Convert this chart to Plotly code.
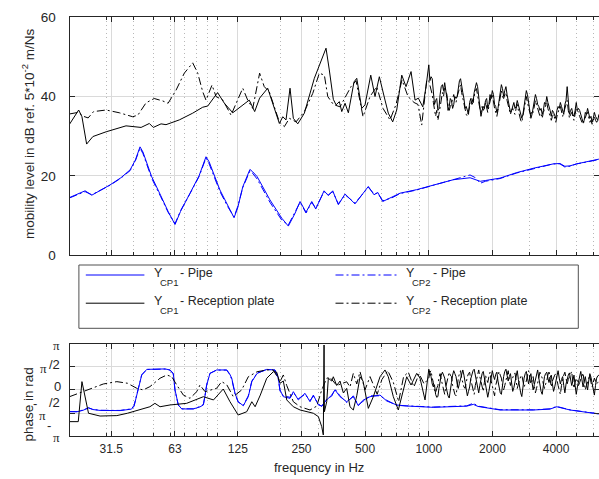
import numpy as np
import plotly.graph_objects as go

# ------------------------------------------------------------------
# Data: mobility level (dB re 5e-2 m/Ns) and phase (rad) vs frequency
# ------------------------------------------------------------------

# frequency grid for the dense upper band (Hz), plus the in-between bins
f_hf = [1000, 1025, 1051, 1077, 1104, 1131, 1160, 1189, 1218, 1249, 1280, 1312,
        1345, 1379, 1413, 1448, 1485, 1522, 1560, 1599, 1639, 1680, 1722, 1765,
        1809, 1854, 1900, 1948, 1997, 2047, 2098, 2150, 2204, 2259, 2316, 2374,
        2433, 2494, 2556, 2620, 2686, 2753, 2822, 2892, 2965, 3039, 3115, 3193,
        3272, 3354, 3438, 3524, 3612, 3702, 3795, 3890, 3987, 4087, 4189, 4294,
        4401, 4511, 4624, 4740, 4858, 4980, 5104, 5232, 5363, 5497, 5634, 5775,
        5919, 6067, 6219, 6374]
f_hf_mid = [1012, 1038, 1064, 1090, 1117, 1145, 1174, 1203, 1233, 1264, 1296, 1328,
            1362, 1396, 1430, 1466, 1503, 1541, 1579, 1619, 1659, 1701, 1743, 1787,
            1831, 1877, 1924, 1972, 2022, 2072, 2124, 2177, 2231, 2287, 2345, 2403,
            2463, 2525, 2588, 2653, 2719, 2787, 2857, 2928, 3002, 3077, 3154, 3232,
            3313, 3396, 3481, 3568, 3657, 3748, 3842, 3938, 4037, 4138, 4241, 4347,
            4456, 4567, 4682, 4799, 4919, 5042, 5167, 5297, 5430, 5565, 5704, 5847,
            5993, 6142, 6296]

# Pipe, Y_CP1 and Y_CP2 (level)
f_pipe = [20.0, 23.7, 25.5, 31.1, 35.0, 38.7, 41.0, 43.1, 44.5, 48.9, 54.0, 58.5,
          63.1, 67.0, 74.3, 82.0, 88.4, 91.5, 102.9, 112.0, 120.0, 125.0, 131.9,
          142.6, 147.0, 154.2, 177.4, 201.7, 216.7, 233.0, 246.2, 262.7, 279.6,
          292.0, 319.7, 334.9, 351.3, 373.5, 401.8, 447.9, 517.7, 550.7, 573.6,
          605.4, 667.9, 731.1, 876.9, 1050, 1306, 1567, 1650, 1750, 1850, 2172,
          2605, 3121, 3880, 4170, 4400, 4650, 5000, 5378, 6374]
lvl_pipe_cp1 = [14.5, 16.2, 15.1, 17.7, 19.5, 21.5, 24.0, 27.3, 26.0, 19.8, 15.0,
                11.0, 7.7, 11.0, 15.6, 20.0, 24.8, 23.5, 16.4, 12.5, 9.4, 12.0,
                17.2, 21.6, 21.0, 19.8, 13.9, 9.3, 7.3, 10.5, 13.5, 10.8, 13.5,
                11.6, 16.2, 15.0, 16.2, 12.7, 15.4, 12.9, 17.3, 15.2, 15.8, 13.5,
                14.5, 15.6, 16.5, 17.7, 19.0, 19.5, 19.0, 18.6, 18.8, 19.4, 20.8,
                21.9, 23.0, 23.1, 22.4, 22.5, 23.0, 23.4, 24.2]
lvl_pipe_cp2 = [14.4, 16.0, 15.2, 17.6, 19.4, 21.3, 23.8, 27.0, 25.6, 19.4, 14.7,
                10.8, 7.9, 11.2, 15.5, 19.8, 24.5, 23.0, 16.0, 12.2, 9.6, 12.3,
                17.0, 21.2, 20.6, 19.2, 13.3, 8.8, 7.6, 10.7, 13.3, 10.6, 13.3,
                11.8, 16.0, 15.2, 16.0, 12.9, 15.2, 13.1, 17.1, 15.4, 15.6, 13.7,
                14.4, 15.5, 16.4, 17.6, 19.0, 20.2, 19.6, 18.1, 18.6, 19.3, 20.7,
                21.8, 23.0, 23.0, 22.2, 22.4, 23.0, 23.3, 24.1]

# Reception plate, Y_CP1 (level)
f_plate_cp1 = [20.0, 22.1, 22.9, 24.1, 25.8, 29.8, 37.0, 43.6, 47.7, 49.8, 54.2,
               57.2, 66.1, 76.5, 85.3, 90.1, 100.3, 108.0, 118.3, 141.6, 150.2,
               158.5, 173.1, 196.5, 203.9, 211.3, 220.7, 228.8, 240.1, 258.0,
               287.6, 315.2, 326.6, 338.5, 353.6, 364.3, 377.6, 387.6, 401.8,
               416.5, 443.0, 456.4, 481.8, 499.4, 531.5, 556.8, 583.6, 620.8,
               643.5, 675.0, 705.2, 744.9, 780.4, 824.2, 861.0, 892.4, 936.7,
               970.4]
lvl_plate_cp1 = [33.0, 36.6, 34.9, 28.0, 29.9, 31.1, 32.6, 32.2, 33.2, 32.2, 33.1,
                 32.9, 34.1, 35.8, 37.3, 37.6, 41.0, 38.3, 35.9, 39.1, 36.2, 39.6,
                 42.1, 33.2, 34.9, 34.1, 42.1, 34.5, 33.1, 35.8, 44.6, 50.0, 52.2,
                 46.7, 39.3, 37.9, 38.7, 36.2, 38.3, 35.9, 43.7, 44.6, 37.0, 37.9,
                 45.4, 40.0, 45.0, 39.1, 35.8, 33.6, 36.6, 45.4, 42.5, 46.3, 39.1,
                 39.6, 37.4, 42.5]
lvl_plate_cp1_hf = [48.0, 45.0, 41.5, 39.0, 36.5, 40.5, 43.0, 43.5, 39.5, 37.5, 39.0,
                    38.0, 39.5, 42.0, 44.5, 41.0, 37.0, 36.0, 38.5, 38.0, 41.0, 43.5,
                    39.5, 35.0, 37.5, 39.0, 37.0, 40.5, 41.5, 38.0, 36.0, 39.5, 43.0,
                    40.0, 42.5, 39.0, 36.0, 38.0, 37.0, 39.0, 36.5, 34.5, 38.0, 41.5,
                    38.5, 34.5, 37.0, 40.5, 38.0, 36.5, 35.5, 38.5, 40.0, 37.0, 35.0,
                    36.0, 34.5, 37.5, 38.5, 36.0, 38.0, 42.5, 35.5, 37.0, 35.0, 38.5,
                    37.0, 35.0, 33.5, 36.0, 37.0, 34.5, 33.5, 36.0, 34.5, 35.5]
lvl_plate_cp1_mid = [44.0, 44.5, 38.0, 39.5, 37.0, 42.5, 41.5, 42.0, 36.5, 39.5, 37.0,
                     40.0, 40.0, 44.0, 42.0, 39.5, 37.5, 35.5, 39.5, 38.5, 42.0, 42.5,
                     36.5, 36.5, 37.0, 39.5, 38.0, 39.5, 40.5, 37.5, 37.0, 41.5, 42.0,
                     41.5, 40.5, 38.0, 36.5, 38.5, 37.5, 38.0, 36.0, 35.5, 39.0, 40.5,
                     36.0, 35.5, 38.5, 39.5, 37.5, 37.0, 36.5, 38.0, 38.5, 36.5, 36.5,
                     35.0, 36.5, 37.0, 37.5, 35.5, 39.0, 38.0, 36.5, 35.5, 36.5, 36.5,
                     36.5, 34.5, 34.0, 35.5, 36.0, 35.0, 34.5, 35.0, 34.0]

# Reception plate, Y_CP2 (level)
f_plate_cp2 = [20.0, 22.0, 23.3, 24.5, 26.0, 29.8, 34.4, 39.8, 42.1, 46.0, 50.3,
               55.1, 58.5, 63.8, 69.8, 76.5, 80.8, 85.3, 88.4, 94.4, 98.6, 106.2,
               116.1, 131.9, 139.2, 147.1, 158.5, 166.7, 176.1, 196.5, 207.5,
               219.1, 235.6, 258.0, 282.7, 303.6, 320.8, 332.8, 353.6, 380.4,
               428.7, 452.8, 488.6, 527.3, 567.3, 607.5, 655.6, 699.9, 747.0,
               797.5, 851.5, 889.0, 925.9, 977.6]
lvl_plate_cp2 = [35.6, 36.0, 35.0, 34.6, 36.2, 36.6, 35.9, 34.9, 35.3, 38.4, 39.5,
                 38.9, 38.3, 41.6, 45.9, 48.5, 45.9, 41.2, 39.1, 42.9, 40.0, 39.1,
                 35.3, 42.1, 39.1, 37.0, 45.9, 42.5, 41.2, 33.6, 32.4, 34.5, 33.6,
                 36.2, 40.8, 45.9, 45.4, 40.0, 38.0, 37.4, 42.5, 44.0, 34.9, 40.0,
                 42.5, 37.0, 34.1, 38.0, 44.2, 40.0, 38.5, 38.0, 32.8, 44.2]
lvl_plate_cp2_hf = [44.0, 42.0, 38.5, 35.0, 34.0, 37.5, 41.0, 42.5, 40.5, 36.5, 38.0,
                    40.5, 38.5, 41.0, 43.0, 39.5, 36.5, 35.0, 37.5, 39.5, 40.0, 42.0,
                    38.0, 36.0, 36.5, 38.5, 36.0, 39.0, 40.5, 37.0, 35.0, 38.0, 41.5,
                    39.5, 41.0, 37.5, 35.5, 37.0, 35.5, 38.0, 35.0, 33.5, 36.5, 40.0,
                    37.0, 35.5, 36.0, 39.0, 37.0, 35.0, 34.5, 37.0, 38.5, 36.0, 34.0,
                    35.5, 33.5, 36.5, 37.5, 35.0, 37.0, 39.0, 34.5, 36.0, 34.0, 37.0,
                    36.0, 34.0, 33.0, 35.0, 36.0, 33.5, 33.0, 35.0, 33.5, 34.5]
lvl_plate_cp2_mid = [43.0, 40.5, 36.0, 36.5, 35.5, 39.5, 40.0, 41.5, 38.0, 37.5, 39.5,
                     39.0, 40.0, 42.5, 41.0, 38.0, 35.5, 36.5, 38.0, 38.5, 41.5, 40.0,
                     37.0, 37.5, 37.0, 37.5, 37.5, 40.0, 38.5, 36.0, 36.5, 40.0, 40.0,
                     40.5, 39.0, 36.0, 36.5, 36.0, 37.0, 36.5, 34.0, 35.0, 38.5, 38.5,
                     36.0, 36.5, 37.5, 38.0, 36.0, 35.5, 36.0, 37.5, 37.0, 35.0, 35.0,
                     34.5, 35.0, 37.0, 36.0, 36.0, 38.0, 36.5, 35.5, 35.0, 35.5, 36.5,
                     35.0, 33.5, 34.0, 35.5, 34.5, 34.0, 34.0, 34.0, 34.0]

# Pipe, phase
f_pipe_ph = [20.0, 21.7, 23.2, 24.6, 25.8, 27.9, 34.7, 39.3, 40.4, 41.5, 42.3, 43.9,
             46.4, 50.7, 56.6, 59.8, 61.9, 63.1, 64.3, 65.4, 67.9, 77.0, 82.8, 85.9,
             87.5, 89.1, 92.3, 99.3, 110.8, 114.2, 117.0, 121.3, 125.5, 132.7,
             140.1, 145.6, 154.2, 171.3, 187.4, 194.3, 197.9, 205.2, 220.7, 228.8,
             241.5, 259.8, 274.4, 284.5, 300.5, 311.7, 329.0, 347.5, 360.2, 380.4,
             409.1, 439.6, 464.3, 488.6, 527.3, 588.0, 632.4, 705.2, 786.3, 1050,
             1512, 1624, 1709, 2172, 3121, 3742, 4025, 4326, 4653, 6374]
ph_pipe_cp1 = [-1.48, -1.48, -1.38, -1.21, -1.33, -1.39, -1.40, -1.30, -1.10, -0.40,
               0.00, 1.01, 1.39, 1.42, 1.42, 1.35, 1.12, 0.00, -0.60, -1.02, -1.29,
               -1.29, -1.15, -1.02, -0.40, 0.33, 1.12, 1.35, 1.35, 1.10, 0.79, -0.23,
               -0.80, -1.07, -0.46, 0.56, 1.12, 1.39, 1.35, 0.79, 0.00, -0.46, -0.57,
               -0.12, -0.68, -0.23, -0.80, -0.35, -1.02, -1.09, -0.68, -0.35, 0.00,
               -0.46, -0.80, -0.46, -1.07, -0.70, -0.46, -0.35, -0.75, -1.02, -1.09,
               -1.18, -1.10, -0.98, -1.12, -1.36, -1.36, -1.30, -1.14, -1.25, -1.36,
               -1.63]
ph_pipe_cp2 = [-1.46, -1.47, -1.36, -1.22, -1.32, -1.38, -1.39, -1.28, -1.05, -0.35,
               0.05, 1.02, 1.38, 1.41, 1.41, 1.33, 1.08, -0.05, -0.62, -1.03, -1.28,
               -1.28, -1.13, -0.98, -0.35, 0.38, 1.12, 1.34, 1.34, 1.06, 0.72, -0.28,
               -0.83, -1.05, -0.40, 0.60, 1.14, 1.38, 1.33, 0.70, -0.08, -0.40, -0.50,
               -0.20, -0.60, -0.30, -0.72, -0.42, -0.95, -1.12, -0.62, -0.42, 0.05,
               -0.40, -0.86, -0.40, -1.02, -0.75, -0.40, -0.40, -0.70, -1.05, -1.08,
               -1.16, -1.08, -0.90, -1.10, -1.34, -1.35, -1.28, -1.12, -1.24, -1.35,
               -1.62]

# Reception plate, Y_CP1 (phase)
f_plate_cp1_ph = [20.0, 22.0, 22.9, 24.6, 27.9, 33.5, 37.6, 41.6, 48.0, 50.7, 53.6,
                  59.8, 71.6, 85.9, 95.9, 106.7, 114.8, 125.5, 137.7, 145.6, 150.9,
                  159.7, 171.3, 184.0, 190.9, 197.9, 205.2, 212.9, 228.8, 246.2,
                  284.5, 300.5, 311.7, 317.1, 319.7, 320.8, 329.1, 334.9, 347.5,
                  353.6, 366.9, 380.4, 394.3, 409.1, 424.0, 439.6, 456.4, 472.9,
                  488.6, 517.7, 546.6, 588.0, 620.8, 643.5, 679.6, 717.6, 757.7,
                  786.3, 824.2, 876.9, 908.8, 959.8]
ph_plate_cp1 = [-2.15, -2.15, 0.56, -1.58, -1.77, -1.74, -1.58, -1.38, -1.14, -0.91,
                -1.14, -1.02, -0.91, -0.46, -0.68, 0.06, -0.80, -1.70, -1.48, -0.80,
                -1.14, -0.35, 0.79, 1.23, 1.20, 0.45, 0.60, -0.68, -1.14, -1.36, -1.58,
                -1.81, -2.49, -3.05, 3.04, -1.48, -0.80, 0.79, 0.60, 0.89, 0.30, 0.60,
                -0.20, 0.10, -1.14, -1.36, -0.40, 0.89, 0.60, -1.25, -0.46, 0.89, 1.35,
                0.89, -0.46, -1.36, 0.11, 0.89, 0.33, 1.12, 0.80, -0.68]
ph_plate_cp1_hf = [1.40, 0.90, 0.20, -0.30, -0.45, 0.60, 1.20, 0.80, -0.10, -0.55,
                   0.50, 1.30, 0.90, 0.10, 0.70, 1.35, 0.60, -0.40, 0.20, 1.10, 1.40,
                   0.50, -0.20, 0.80, 1.25, 0.30, -0.50, 0.40, 1.30, 0.70, 1.20, 0.10,
                   -0.30, 0.90, 1.40, 0.60, 1.10, -0.10, 0.50, 1.30, 0.20, -0.45, 0.80,
                   1.25, 0.40, 1.10, 0.00, 0.70, 1.35, 0.30, -0.30, 0.90, 1.20, 0.50,
                   1.00, -0.10, 0.60, 1.30, 0.40, 0.90, -0.20, 0.80, 1.15, 0.30, 1.00,
                   -0.30, 0.60, 1.25, 0.20, 0.90, 0.00, 1.10, 0.50, -0.35, 0.80, 1.00]
ph_plate_cp1_mid = [1.20, 0.40, 0.35, -0.50, 0.10, 1.00, 0.95, 0.30, -0.40, 0.10, 1.00,
                    1.10, 0.40, 0.45, 1.10, 1.00, 0.00, -0.10, 0.75, 1.30, 0.95, 0.10,
                    0.30, 1.10, 0.80, -0.20, -0.10, 0.95, 0.95, 1.05, 0.60, -0.20, 0.40,
                    1.25, 1.00, 0.90, 0.50, 0.15, 1.00, 0.70, -0.20, 0.30, 1.10, 0.80,
                    0.85, 0.50, 0.35, 1.10, 0.80, -0.10, 0.40, 1.10, 0.80, 0.85, 0.40,
                    0.20, 1.00, 0.80, 0.70, 0.30, 0.40, 1.00, 0.70, 0.60, 0.30, 0.20,
                    0.90, 0.70, 0.55, 0.40, 0.60, 0.85, 0.00, 0.30, 0.95]

# Reception plate, Y_CP2 (phase)
f_plate_cp2_ph = [20.0, 22.3, 25.4, 28.9, 33.5, 37.6, 41.6, 44.6, 48.0, 53.6, 57.7,
                  60.9, 64.3, 69.1, 74.3, 79.9, 82.8, 87.5, 99.3, 104.9, 110.8, 119.0,
                  130.4, 140.1, 154.2, 171.2, 184.0, 197.9, 205.2, 212.9, 228.8,
                  246.2, 274.4, 295.1, 311.7, 329.1, 341.1, 366.9, 409.1, 424.0,
                  439.6, 456.4, 472.9, 499.4, 527.3, 570.0, 600.0, 640.0, 680.0,
                  720.0, 760.0, 800.0, 850.0, 900.0, 950.0]
ph_plate_cp2 = [-0.46, -0.19, 0.11, 0.40, 0.56, 0.45, 0.11, 0.00, 0.22, 0.79, 1.01,
                0.89, 0.33, -0.35, -0.57, -0.12, 0.33, -0.12, 0.11, 0.56, 0.35, -0.46,
                0.00, 0.89, 1.23, 1.35, 1.35, 0.56, 1.01, 0.30, -0.80, -1.14, -1.36,
                -1.10, 0.00, 0.79, 0.85, 0.30, 0.55, 0.20, 1.12, 0.40, 1.23, 0.00,
                0.90, -0.30, 0.70, 1.30, 0.50, -0.80, 0.90, 1.20, 0.20, 1.10, 0.40]
ph_plate_cp2_hf = [0.80, 1.30, 0.50, -0.20, 0.30, 1.10, 0.40, -0.30, 0.60, 1.20, 0.90,
                   0.00, -0.40, 0.80, 1.30, 0.50, 0.10, 0.90, 1.20, 0.30, -0.30, 0.70,
                   1.35, 0.60, -0.10, 1.00, 0.50, 1.20, 0.20, -0.40, 0.70, 1.25, 0.80,
                   0.00, 0.60, 1.30, 0.30, 0.90, 1.15, 0.10, 0.70, 1.00, 0.20, 0.60,
                   1.30, 0.40, 0.90, -0.20, 0.50, 1.20, 0.80, 0.10, 0.60, 1.30, 0.20,
                   0.90, 1.10, 0.30, -0.30, 0.70, 1.20, 0.40, 0.90, 1.25, 0.10, 0.80,
                   0.30, 0.70, 1.15, 0.00, 0.60, 1.00, 0.20, 0.80, 0.40, 0.70]
ph_plate_cp2_mid = [1.20, 0.80, 0.00, 0.10, 0.80, 0.70, 0.00, 0.20, 1.00, 1.00, 0.30,
                    -0.30, 0.30, 1.10, 0.80, 0.20, 0.60, 1.10, 0.70, -0.10, 0.30, 1.10,
                    0.90, 0.20, 0.50, 0.70, 0.90, 0.60, -0.20, 0.30, 1.00, 1.00, 0.30,
                    0.30, 1.00, 0.70, 0.60, 1.05, 0.50, 0.40, 0.90, 0.50, 0.40, 1.00,
                    0.80, 0.60, 0.30, 0.10, 0.90, 1.00, 0.40, 0.40, 1.00, 0.70, 0.60,
                    1.00, 0.60, 0.00, 0.30, 1.00, 0.70, 0.70, 1.10, 0.50, 0.50, 0.60,
                    0.50, 0.90, 0.50, 0.30, 0.80, 0.50, 0.50, 0.60, 0.50]

x_ticks = [31.5, 63, 125, 250, 500, 1000, 2000, 4000]
x_ticktext = ["31.5", "63", "125", "250", "500", "1000", "2000", "4000"]
x_minor = [20, 30, 40, 50, 60, 70, 80, 90, 100, 200, 300, 400, 600, 700, 800, 900,
           3000, 5000, 6000]
f_min, f_max = 20, 6380


def join(f_lo, v_lo, v_hf, v_mid):
    """Low band points followed by the dense upper band, ordered by frequency."""
    assert len(f_lo) == len(v_lo)
    assert len(f_hf) == len(v_hf) and len(f_hf_mid) == len(v_mid)
    upper = sorted(list(zip(f_hf, v_hf)) + list(zip(f_hf_mid, v_mid)))
    return list(f_lo) + [p[0] for p in upper], list(v_lo) + [p[1] for p in upper]


# ------------------------------------------------------------------
# Figure geometry (pixels)
# ------------------------------------------------------------------
W, H = 599, 479
LEFT = 69.5
TOP1, BOT1 = 17.3, 255.0
TOP2, BOT2 = 343.5, 436.3


def px(x):
    return x / W


def py(y):
    return 1 - y / H


FONT = "Liberation Sans, Arial, sans-serif"
SERIF = "Liberation Serif, Times New Roman, serif"
TXT = "#262626"
BLUE = "#0000ff"
BLACK = "#000000"
DASHDOT = "8px,3px,2px,3px"

series_level = [
    (f_pipe, lvl_pipe_cp1, BLUE, "solid"),
    (f_pipe, lvl_pipe_cp2, BLUE, DASHDOT),
    (*join(f_plate_cp1, lvl_plate_cp1, lvl_plate_cp1_hf, lvl_plate_cp1_mid), BLACK, "solid"),
    (*join(f_plate_cp2, lvl_plate_cp2, lvl_plate_cp2_hf, lvl_plate_cp2_mid), BLACK, DASHDOT),
]
series_phase = [
    (f_pipe_ph, ph_pipe_cp1, BLUE, "solid"),
    (f_pipe_ph, ph_pipe_cp2, BLUE, DASHDOT),
    (*join(f_plate_cp1_ph, ph_plate_cp1, ph_plate_cp1_hf, ph_plate_cp1_mid), BLACK, "solid"),
    (*join(f_plate_cp2_ph, ph_plate_cp2, ph_plate_cp2_hf, ph_plate_cp2_mid), BLACK, DASHDOT),
]

fig = go.Figure()
for f, v, col, dash in series_level:
    assert len(f) == len(v)
    fig.add_trace(go.Scatter(x=f, y=v, mode="lines", xaxis="x", yaxis="y",
                             line=dict(color=col, width=1, dash=dash),
                             showlegend=False, hoverinfo="skip"))
for f, v, col, dash in series_phase:
    assert len(f) == len(v)
    fig.add_trace(go.Scatter(x=f, y=v, mode="lines", xaxis="x2", yaxis="y2",
                             line=dict(color=col, width=1, dash=dash),
                             showlegend=False, hoverinfo="skip"))

xbase = dict(
    type="log", range=[np.log10(f_min), np.log10(f_max)], domain=[px(LEFT), 1.0],
    tickvals=x_ticks, ticktext=x_ticktext, ticks="inside", ticklen=5,
    tickcolor=TXT, showline=True, linecolor=TXT, linewidth=1, mirror="ticks",
    showgrid=True, gridcolor="#dadada", gridwidth=1, zeroline=False,
    minor=dict(tickvals=x_minor, ticks="inside", ticklen=3, tickcolor=TXT,
               showgrid=True, gridcolor="#b8b8b8", griddash="1px,3px"),
    automargin=False, fixedrange=True,
)
fig.update_layout(
    xaxis=dict(xbase, anchor="y", showticklabels=False),
    xaxis2=dict(xbase, anchor="y2", showticklabels=True,
                tickfont=dict(family=FONT, size=12, color=TXT),
                ticklabelstandoff=1),
    yaxis=dict(domain=[py(BOT1), py(TOP1)], range=[0, 60], tickvals=[0, 20, 40, 60],
               ticks="inside", ticklen=5, tickcolor=TXT, showline=True,
               linecolor=TXT, linewidth=1, mirror="ticks", showgrid=True,
               gridcolor="#dadada", zeroline=False, anchor="x",
               tickfont=dict(family=FONT, size=13.5, color=TXT),
               ticklabelstandoff=10, automargin=False),
    yaxis2=dict(domain=[py(BOT2), py(TOP2)], range=[-np.pi, np.pi],
                tickvals=[-np.pi, -np.pi / 2, 0, np.pi / 2, np.pi],
                showticklabels=False, ticks="inside", ticklen=5,
                tickcolor=TXT, showline=True, linecolor=TXT, linewidth=1,
                mirror="ticks", showgrid=True, gridcolor="#dadada",
                zeroline=False, anchor="x2", automargin=False),
    width=W, height=H, margin=dict(l=0, r=0, t=0, b=0),
    paper_bgcolor="white", plot_bgcolor="white", showlegend=False,
    font=dict(family=FONT, color=TXT),
)

ann = []
# axis titles
ann.append(dict(text="mobility level in dB ref. 5*10<sup>-2</sup> m/Ns", textangle=-90,
                x=px(28), y=py(134), xref="paper", yref="paper", showarrow=False,
                xanchor="center", yanchor="middle", font=dict(size=13.5)))
ann.append(dict(text="phase in rad", textangle=-90, x=px(27.5), y=py(404),
                xref="paper", yref="paper", showarrow=False, xanchor="center",
                yanchor="middle", font=dict(size=13.5)))
ann.append(dict(text="frequency in Hz", x=px(319), y=py(467), xref="paper",
                yref="paper", showarrow=False, xanchor="center", yanchor="middle",
                font=dict(size=13)))

# phase tick labels, pieces placed beside each tick
phase_pieces = [
    (np.pi, "π", SERIF, -7.8, -2.2),
    (np.pi / 2, "π", SERIF, -20.2, -1.3),
    (np.pi / 2, "/2", FONT, -7.8, 2.4),
    (0, "0", FONT, -6.8, 3.2),
    (-np.pi / 2, "-", FONT, -30.2, 9.8),
    (-np.pi / 2, "/2", FONT, -7.8, 10.6),
    (-np.pi / 2, "π", SERIF, -21.2, -2.7),
    (-np.pi, "-", FONT, -16.8, 11.3),
    (-np.pi, "π", SERIF, -7.8, -1.4),
]
for yv, txt, fam, dx, dy in phase_pieces:
    ann.append(dict(text=txt, x=px(LEFT), y=yv, xref="paper", yref="y2",
                    xanchor="right", yanchor="middle", xshift=dx, yshift=dy,
                    showarrow=False, font=dict(family=fam, size=13)))

# legend box
shapes = [dict(type="rect", xref="paper", yref="paper", x0=px(78.9), x1=px(578.3),
               y0=py(328.3), y1=py(265), line=dict(color="#505050", width=1),
               fillcolor="white", layer="above")]
legend_rows = [
    (275.0, [(85.8, 144.4, BLUE, "solid", "CP1", "- Pipe"),
             (335.5, 396.8, BLUE, DASHDOT, "CP2", "- Pipe")]),
    (303.2, [(85.8, 144.4, BLACK, "solid", "CP1", "- Reception plate"),
             (335.5, 396.8, BLACK, DASHDOT, "CP2", "- Reception plate")]),
]
for yrow, items in legend_rows:
    for x0, x1, col, dash, sub, label in items:
        shapes.append(dict(type="line", xref="paper", yref="paper", x0=px(x0),
                           x1=px(x1), y0=py(yrow), y1=py(yrow),
                           line=dict(color=col, width=1, dash=dash), layer="above"))
        ann.append(dict(text="Y", x=px(x1 + 7.5), y=py(yrow - 2.5), xref="paper",
                        yref="paper", xanchor="left", yanchor="middle",
                        showarrow=False, font=dict(size=12.5)))
        ann.append(dict(text=sub, x=px(x1 + 13.5), y=py(yrow + 7.5), xref="paper",
                        yref="paper", xanchor="left", yanchor="middle",
                        showarrow=False, font=dict(size=9.5)))
        ann.append(dict(text=label, x=px(x1 + 34), y=py(yrow - 2.5), xref="paper",
                        yref="paper", xanchor="left", yanchor="middle",
                        showarrow=False, font=dict(size=12.5)))

fig.update_layout(annotations=ann, shapes=shapes)
fig.write_html("out.html", include_plotlyjs=True, config={"displayModeBar": False})
